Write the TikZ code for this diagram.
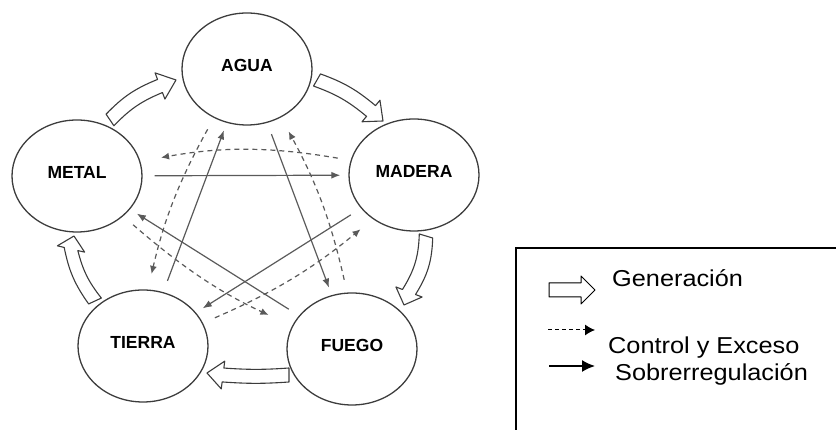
\documentclass[tikz,border=0pt]{standalone}
\usepackage{fontspec}
\setmainfont{Liberation Sans}
\newfontfamily\legendfont[FakeStretch=1.1]{Liberation Sans}
\usetikzlibrary{shapes.geometric,arrows.meta,calc}

\definecolor{ink}{RGB}{60,60,60}
\definecolor{wire}{RGB}{90,90,90}

% hollow generation arrow: tail, head base, tip, bend
\newcommand{\genarrow}[5][]{%
  \draw[draw=ink, line width=1.1pt, line join=round, fill=white, #1]
    ($(#2)!7pt!90:(#3)$) to[bend left=#5] ($(#3)!7pt!90:(#4)$)
    -- ($(#3)!14pt!90:(#4)$) -- (#4) -- ($(#3)!14pt!-90:(#4)$)
    -- ($(#3)!7pt!-90:(#4)$) to[bend right=#5] ($(#2)!7pt!-90:(#3)$) -- cycle;
}

\begin{document}
\begin{tikzpicture}[x=1pt, y=1pt,
    elem/.style={ellipse, draw=ink, line width=1.3pt, minimum width=130pt,
      minimum height=112pt, inner sep=0pt, text depth=8pt,
      font=\fontsize{17.5}{20}\selectfont\bfseries},
    over/.style={draw=wire, line width=1.2pt, -{Latex[length=9pt,width=7pt]},
      shorten <=12pt, shorten >=8pt},
    ctrl/.style={draw=wire, line width=1.2pt, dash pattern=on 5pt off 4pt,
      -{Latex[length=8pt,width=7pt]}, shorten <=13pt, shorten >=16pt},
    legend/.style={anchor=base west, inner sep=0pt, font=\legendfont\fontsize{23}{26}\selectfont}]
    \useasboundingbox (0,0) rectangle (836,430);

    % The five elements
    \node[elem] (agua)   at (247,361) {AGUA};
    \node[elem] (madera) at (414,255) {MADERA};
    \node[elem] (fuego)  at (352,81)  {FUEGO};
    \node[elem] (tierra) at (143,84)  {TIERRA};
    \node[elem] (metal)  at (77,254)  {METAL};

    % Generation cycle (hollow arrows)
    \coordinate (g1t) at (110,310); \coordinate (g1h) at (160,344); \coordinate (g1p) at (176,350);
    \coordinate (g2t) at (317,350); \coordinate (g2h) at (371,319); \coordinate (g2p) at (383,309);
    \coordinate (g3t) at (426,194); \coordinate (g3h) at (409,138); \coordinate (g3p) at (404,125);
    \coordinate (g4t) at (289,55);  \coordinate (g4h) at (223,55);  \coordinate (g4p) at (207,57);
    \coordinate (g5t) at (95,129);  \coordinate (g5h) at (71,181);  \coordinate (g5p) at (74,194);
    \genarrow{g1t}{g1h}{g1p}{12}
    \genarrow{g2t}{g2h}{g2p}{10}
    \genarrow{g3t}{g3h}{g3p}{15}
    \genarrow{g4t}{g4h}{g4p}{4}
    \genarrow{g5t}{g5h}{g5p}{12}

    % Sobrerregulacion (solid star)
    \draw[over] (metal) -- (madera);
    \draw[over] (tierra) -- (agua);
    \draw[over] (agua) -- (fuego);
    \draw[over] (madera) -- (tierra);
    \draw[over] (fuego) -- (metal);

    % Control y exceso (dashed ring)
    \draw[ctrl, shorten >=21pt] (madera.167) to[bend right=10] (metal.13);
    \draw[ctrl] (agua.236) to[bend right=8] (tierra.85);
    \draw[ctrl] (fuego.95) to[bend right=8] (agua.305);
    \draw[ctrl, shorten >=26pt] (metal.319) to[bend right=8] (fuego.159);
    \draw[ctrl] (tierra.21) to[bend right=8] (madera.227);

    % Legend
    \draw[black, line width=1.2pt] (516,0) -- (516,182) -- (836,182);
    \coordinate (l1t) at (549,140); \coordinate (l1h) at (581,140); \coordinate (l1p) at (595,140);
    \genarrow[draw=black, line width=1pt]{l1t}{l1h}{l1p}{0}
    \coordinate (l2a) at (548,100); \coordinate (l2b) at (595,100);
    \draw[black, line width=1pt, dash pattern=on 4pt off 3pt,
      -{Latex[length=10pt,width=11pt]}] (l2a) -- (l2b);
    \coordinate (l3a) at (549,64); \coordinate (l3b) at (595,64);
    \draw[black, line width=1.6pt, -{Latex[length=13pt,width=12pt]}] (l3a) -- (l3b);
    \node[legend] (gen) at (612,143) {Generación};
    \node[legend] (ctl) at (608,76) {Control y Exceso};
    \node[legend] (sob) at (615,49) {Sobrerregulación};
\end{tikzpicture}
\end{document}
